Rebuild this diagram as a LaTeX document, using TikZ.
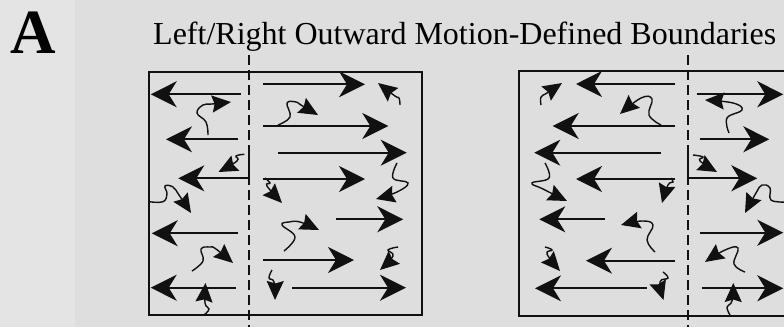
\documentclass[tikz,border=0pt]{standalone}
\usepackage{fontspec}
\setmainfont{Liberation Serif}
\usetikzlibrary{arrows.meta}
\definecolor{paper}{HTML}{DEDEDE}
\definecolor{paperlight}{HTML}{E4E4E4}
\definecolor{ink}{HTML}{111111}
\tikzset{
  shaft/.style={draw=ink, line width=1.8pt, -{Stealth[length=26pt,width=26pt,inset=8pt]}},
  wig/.style={draw=ink, line width=1.4pt, -{Stealth[length=19pt,width=17pt,inset=2.5pt]}},
  frame/.style={draw=ink, line width=1.7pt},
  bound/.style={draw=ink, line width=2pt, dash pattern=on 10pt off 5pt},
}
\begin{document}
\begin{tikzpicture}[x=1pt, y=-1pt]
  \useasboundingbox (0,0) rectangle (784,327);
  \clip (0,0) rectangle (784,327);
  \fill[paper] (0,0) rectangle (784,327);
  \fill[paperlight] (0,0) rectangle (75,327);

  % panel label and title
  \node[anchor=base west, inner sep=0pt, font=\fontsize{63}{63}\selectfont\bfseries] (lbl) at (10,53) {A};
  \node[anchor=base west, inner sep=0pt, font=\fontsize{32}{32}\selectfont] (ttl) at (153,44) {Left/Right Outward Motion-Defined Boundaries};

  % ---------- left panel ----------
  \draw[frame] (149,71.7) rectangle (421.7,315);
  \draw[bound] (249,55) -- (249,327);
  % leftward motion
  \draw[shaft] (240.7,94.3) -- (150.7,94.3);
  \draw[shaft] (238,139.3) -- (166,139.3);
  \draw[shaft] (249,149) -- (249,178.3) -- (178.3,178.3);
  \draw[shaft] (238,233.3) -- (151.7,233.3);
  \draw[shaft] (236,287.7) -- (150.7,287.7);
  % rightward motion
  \draw[shaft] (263.3,84.3) -- (365,84.3);
  \draw[shaft] (263.3,126) -- (388.3,126);
  \draw[shaft] (278.3,152.7) -- (406.7,152.7);
  \draw[shaft] (263.3,179) -- (365,179);
  \draw[shaft] (335.7,219.3) -- (403.3,219.3);
  \draw[shaft] (263.3,260) -- (354,260);
  \draw[shaft] (292.3,287.7) -- (406,287.7);
  % random motion
  \draw[wig] plot[smooth, tension=0.7] coordinates {(208,135) (206,122) (197,113) (203,105) (212,104) (231,102)};
  \draw[wig] plot[smooth, tension=0.7] coordinates {(244.3,154.3) (236,156) (237,161) (218.5,172)};
  \draw[wig] plot[smooth, tension=0.7] coordinates {(149,201.7) (163,201.7) (167,194) (165,186) (173,187) (179,195) (191,213)};
  \draw[wig] plot[smooth, tension=0.7] coordinates {(192,271) (203,261) (201,249) (210,247) (216,249) (233,263)};
  \draw[wig] plot[smooth, tension=0.7] coordinates {(204,315) (209,309) (205,303) (205.5,283)};
  \draw[wig] plot[smooth, tension=0.7] coordinates {(278,125) (290,117) (287,103) (296,102) (301,105) (318,115)};
  \draw[wig] plot[smooth, tension=0.7] coordinates {(400,105) (399,98) (395,96) (378,83)};
  \draw[wig] plot[smooth, tension=0.7] coordinates {(397,163) (393,178) (408,183) (397,192) (376,199)};
  \draw[wig] plot[smooth, tension=0.7] coordinates {(265,178) (270,183) (267,186) (282,203)};
  \draw[wig] plot[smooth, tension=0.7] coordinates {(284,251) (295,237) (282,225) (289,222) (300,222) (319,230)};
  \draw[wig] plot[smooth, tension=0.7] coordinates {(398,247) (388,250) (393,256) (380,270)};
  \draw[wig] plot[smooth, tension=0.7] coordinates {(272,270) (269,278) (274,282) (275,300)};

  % ---------- right panel ----------
  \draw[frame] (519,70.7) rectangle (820,315.7);
  \draw[bound] (687.7,55) -- (687.7,327);
  % leftward motion
  \draw[shaft] (675,84) -- (576,84);
  \draw[shaft] (675,126) -- (552.7,126);
  \draw[shaft] (661,152.7) -- (534.3,152.7);
  \draw[shaft] (675,179) -- (576,179);
  \draw[shaft] (605,219.3) -- (539.3,219.3);
  \draw[shaft] (675,260.7) -- (586,260.7);
  \draw[shaft] (646.7,288.3) -- (535,288.3);
  % rightward motion
  \draw[shaft] (696.7,94.3) -- (783.3,94.3);
  \draw[shaft] (700,139.3) -- (769.3,139.3);
  \draw[shaft] (687.7,150) -- (687.7,178.3) -- (757.3,178.3);
  \draw[shaft] (700,232.7) -- (783.3,232.7);
  \draw[shaft] (701.7,288.3) -- (783.3,288.3);
  % random motion
  \draw[wig] plot[smooth, tension=0.7] coordinates {(541,105) (541,97) (547,93) (562,83)};
  \draw[wig] plot[smooth, tension=0.7] coordinates {(661,125) (649,115) (652,99) (641,98) (620,114)};
  \draw[wig] plot[smooth, tension=0.7] coordinates {(545,163) (549,178) (532,183) (543,189) (567,201)};
  \draw[wig] plot[smooth, tension=0.7] coordinates {(671,178) (673,182) (668,185) (662,203)};
  \draw[wig] plot[smooth, tension=0.7] coordinates {(655,252) (647,240) (653,225) (642,221) (621,225)};
  \draw[wig] plot[smooth, tension=0.7] coordinates {(545,247) (552,250) (547,254) (560,271)};
  \draw[wig] plot[smooth, tension=0.7] coordinates {(663,272) (668,278) (660,282) (663.5,300)};
  \draw[wig] plot[smooth, tension=0.7] coordinates {(729,133) (727,118) (742,110) (733,103) (705,100)};
  \draw[wig] plot[smooth, tension=0.7] coordinates {(693,155) (703,157) (700,161) (717,172)};
  \draw[wig] plot[smooth, tension=0.7] coordinates {(786,202) (771,200) (770,188) (762,185) (756,193) (745,213)};
  \draw[wig] plot[smooth, tension=0.7] coordinates {(745,272) (734,264) (738,248) (725,250) (705,262)};
  \draw[wig] plot[smooth, tension=0.7] coordinates {(730,315) (727,307) (732,301) (733.3,283)};
\end{tikzpicture}
\end{document}
